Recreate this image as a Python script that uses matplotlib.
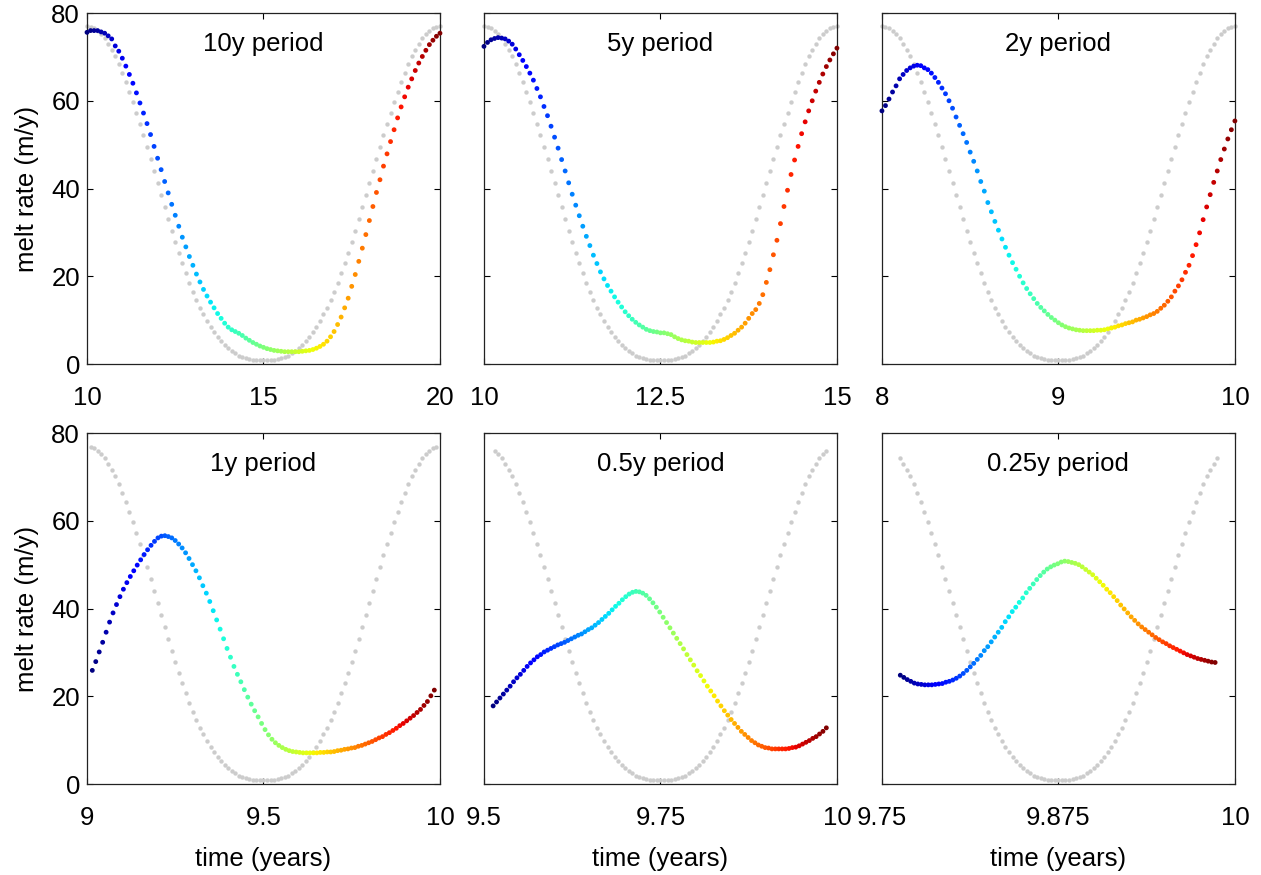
import numpy as np
import matplotlib
matplotlib.use('Agg')
import matplotlib.pyplot as plt

plt.rcParams['font.family'] = ['Liberation Sans', 'DejaVu Sans']

# panel titles, x ranges and tick labels
titles = ['10y period', '5y period', '2y period', '1y period', '0.5y period', '0.25y period']
x_ranges = [(10, 20), (10, 15), (8, 10), (9, 10), (9.5, 10), (9.75, 10)]
xtick_labels = [['10', '15', '20'], ['10', '12.5', '15'], ['8', '9', '10'],
                ['9', '9.5', '10'], ['9.5', '9.75', '10'], ['9.75', '9.875', '10']]

# grey forcing curve, 101 samples over one period (same shape in each panel)
forcing = [77.0, 76.9, 76.6, 76.0, 75.2, 74.2, 73.0, 71.6, 70.1, 68.3,
           66.4, 64.3, 62.1, 59.7, 57.3, 54.8, 52.1, 49.5, 46.7, 44.0,
           41.2, 38.5, 35.8, 33.1, 30.4, 27.9, 25.4, 23.0, 20.7, 18.5,
           16.4, 14.5, 12.7, 11.3, 9.8, 8.5, 7.3, 6.2, 5.2, 4.3,
           3.6, 2.9, 2.4, 1.9, 1.6, 1.3, 1.1, 1.0, 1.0, 1.0,
           1.0,
           1.0, 1.0, 1.0, 1.1, 1.3, 1.6, 1.9, 2.4, 2.9, 3.6,
           4.3, 5.2, 6.2, 7.3, 8.5, 9.8, 11.3, 12.7, 14.5, 16.4,
           18.5, 20.7, 23.0, 25.4, 27.9, 30.4, 33.1, 35.8, 38.5, 41.2,
           44.0, 46.7, 49.5, 52.1, 54.8, 57.3, 59.7, 62.1, 64.3, 66.4,
           68.3, 70.1, 71.6, 73.0, 74.2, 75.2, 76.0, 76.6, 76.9, 77.0]
# part of the forcing samples shown in each panel
forcing_slices = [(0, 101), (0, 101), (0, 101), (1, 100), (3, 98), (5, 96)]

# time span of the melt rate samples in each panel
melt_spans = [(10, 20), (10, 15), (8, 10), (9.015, 9.984), (9.513, 9.985), (9.763, 9.986)]

melt_10y = [75.6, 76.0, 76.0, 76.0, 75.7, 75.4, 74.8, 74.1, 72.5, 71.3,
            69.7, 67.9, 66.0, 64.0, 61.8, 59.5, 57.2, 54.8, 52.3, 49.6,
            46.9, 44.3, 41.6, 39.0, 36.4, 33.9, 31.4, 28.9, 26.7, 24.5,
            22.5, 20.5, 18.7, 17.0, 15.5, 14.1, 12.8, 11.5, 10.4, 9.3,
            8.4, 7.8, 7.4, 7.0, 6.5, 5.9, 5.4, 4.9, 4.5, 4.1,
            3.8, 3.5, 3.3, 3.1, 3.0, 2.9, 2.8, 2.8, 2.8, 2.8,
            2.8, 2.9, 3.0, 3.1, 3.3, 3.6, 4.0, 4.5, 5.2, 6.2,
            7.4, 9.0, 10.7, 12.8, 15.0, 17.7, 20.4, 23.4, 26.4, 29.5,
            32.7, 35.9, 39.1, 42.0, 45.1, 47.9, 50.7, 53.4, 56.1, 58.6,
            60.9, 63.1, 65.0, 66.9, 68.6, 70.1, 71.5, 72.8, 73.8, 74.7, 75.4]

melt_5y = [72.4, 73.3, 73.9, 74.2, 74.4, 74.3, 74.1, 73.6, 72.9, 71.8,
           70.5, 69.2, 67.8, 66.3, 64.7, 62.8, 60.9, 58.7, 56.6, 54.2,
           51.7, 49.2, 46.6, 44.0, 41.3, 38.7, 36.2, 33.8, 31.4, 29.1,
           27.0, 24.8, 22.9, 21.0, 19.4, 17.9, 16.6, 15.3, 14.1, 13.0,
           11.9, 11.0, 10.2, 9.5, 8.9, 8.4, 7.9, 7.6, 7.4, 7.3,
           7.1, 7.1, 6.9, 6.7, 6.2, 5.8, 5.5, 5.3, 5.2, 5.0,
           4.9, 4.9, 4.9, 4.9, 4.9, 5.0, 5.2, 5.3, 5.6, 6.0,
           6.5, 7.0, 7.7, 8.4, 9.3, 10.4, 11.5, 12.4, 13.8, 15.8,
           18.6, 21.5, 24.9, 28.2, 32.0, 35.9, 39.6, 43.2, 46.5, 49.6,
           52.5, 55.2, 57.7, 60.0, 62.2, 64.2, 66.1, 67.8, 69.3, 70.7, 72.0]

melt_2y = [57.7, 58.9, 60.4, 62.0, 63.4, 65.0, 66.0, 66.9, 67.5, 67.9,
           68.1, 68.0, 67.5, 67.1, 66.3, 65.3, 64.2, 62.9, 61.6, 60.0,
           58.3, 56.3, 54.4, 52.5, 50.5, 48.3, 46.2, 44.0, 41.6, 39.4,
           36.8, 34.7, 32.5, 30.5, 28.5, 26.6, 24.8, 23.1, 21.6, 20.0,
           18.5, 17.2, 16.0, 14.9, 13.8, 12.9, 12.1, 11.3, 10.6, 10.0,
           9.4, 8.9, 8.5, 8.2, 8.0, 7.8, 7.7, 7.6, 7.6, 7.6,
           7.6, 7.7, 7.7, 7.8, 8.0, 8.2, 8.4, 8.7, 8.9, 9.2,
           9.4, 9.6, 10.0, 10.2, 10.5, 10.8, 11.2, 11.5, 12.0, 12.7,
           13.4, 14.3, 15.3, 16.6, 17.8, 19.2, 20.9, 22.5, 24.7, 27.2,
           29.9, 32.9, 35.8, 38.6, 41.4, 44.0, 46.6, 49.0, 51.3, 53.4, 55.4]

melt_1y = [25.9, 27.9, 30.1, 32.3, 34.6, 36.9, 39.0, 40.9, 42.7, 44.4,
           45.9, 47.3, 48.6, 49.9, 51.1, 52.3, 53.4, 54.4, 55.3, 56.1,
           56.5, 56.6, 56.4, 56.1, 55.5, 54.7, 53.8, 52.7, 51.4, 50.0,
           48.6, 47.0, 45.2, 43.5, 41.6, 39.5, 37.4, 35.3, 33.1, 30.9,
           28.9, 26.8, 25.0, 23.3, 21.5, 19.8, 18.2, 16.7, 15.3, 13.8,
           12.4, 11.2, 10.2, 9.4, 8.8, 8.3, 7.9, 7.6, 7.4, 7.3,
           7.2, 7.1, 7.1, 7.1, 7.1, 7.1, 7.2, 7.2, 7.3, 7.3,
           7.4, 7.6, 7.7, 7.9, 8.0, 8.2, 8.3, 8.6, 8.8, 9.1,
           9.4, 9.7, 10.1, 10.5, 10.8, 11.3, 11.7, 12.2, 12.7, 13.3,
           13.8, 14.4, 15.0, 15.6, 16.3, 17.0, 17.9, 18.8, 20.1, 21.4]

melt_05y = [17.8, 18.7, 19.6, 20.5, 21.4, 22.3, 23.3, 24.2, 25.0, 25.9,
            26.8, 27.6, 28.3, 29.0, 29.5, 30.1, 30.5, 30.9, 31.3, 31.7,
            32.0, 32.3, 32.7, 33.1, 33.5, 33.9, 34.2, 34.7, 35.2, 35.6,
            36.2, 36.8, 37.5, 38.2, 38.9, 39.7, 40.5, 41.2, 42.0, 42.7,
            43.3, 43.7, 43.9, 43.8, 43.5, 43.0, 42.2, 41.3, 40.3, 39.2,
            38.0, 36.8, 35.6, 34.4, 33.2, 32.0, 30.8, 29.5, 28.3, 27.1,
            25.8, 24.7, 23.5, 22.3, 21.2, 20.1, 18.9, 17.8, 16.7, 15.7,
            14.7, 13.8, 12.9, 12.0, 11.3, 10.6, 9.9, 9.4, 8.9, 8.6,
            8.3, 8.2, 8.0, 8.0, 8.0, 8.0, 8.0, 8.1, 8.3, 8.4,
            8.7, 9.1, 9.5, 9.9, 10.4, 10.8, 11.4, 12.0, 12.8]

melt_025y = [24.8, 24.3, 23.8, 23.4, 23.0, 22.8, 22.7, 22.6, 22.6, 22.6,
             22.7, 22.8, 22.9, 23.2, 23.4, 23.7, 24.1, 24.6, 25.2, 25.9,
             26.7, 27.5, 28.4, 29.3, 30.4, 31.3, 32.4, 33.5, 34.6, 35.7,
             37.0, 38.1, 39.3, 40.3, 41.4, 42.4, 43.6, 44.6, 45.6, 46.6,
             47.5, 48.3, 49.0, 49.5, 49.9, 50.2, 50.6, 50.8, 50.7, 50.5,
             50.3, 50.0, 49.5, 48.9, 48.3, 47.7, 46.9, 46.1, 45.3, 44.4,
             43.6, 42.7, 41.8, 40.8, 39.9, 39.0, 38.1, 37.3, 36.5, 35.8,
             35.2, 34.6, 34.0, 33.4, 32.9, 32.4, 32.0, 31.5, 31.1, 30.7,
             30.3, 29.9, 29.5, 29.2, 28.9, 28.6, 28.4, 28.2, 28.0, 27.8, 27.7]

melt_series = [melt_10y, melt_5y, melt_2y, melt_1y, melt_05y, melt_025y]

FS = 18.5
lefts = [0.069, 0.3838, 0.6994]
bottoms = [0.584, 0.104]
w, h = 0.2799, 0.4011

fig = plt.figure(figsize=(12.61, 8.75), dpi=100)

for k in range(6):
    row, col = divmod(k, 3)
    ax = fig.add_axes([lefts[col], bottoms[row], w, h])
    x0, x1 = x_ranges[k]

    # grey forcing
    a, b = forcing_slices[k]
    tg = x0 + (x1 - x0) * np.arange(a, b) / 100.0
    ax.scatter(tg, forcing[a:b], s=10, color=(0.8, 0.8, 0.8), linewidths=0,
               zorder=2, clip_on=False)

    # melt rate coloured by time (jet)
    m = melt_series[k]
    t0, t1 = melt_spans[k]
    tm = np.linspace(t0, t1, len(m))
    cols = plt.cm.jet(np.linspace(0, 1, len(m)))
    ax.scatter(tm, m, s=12, c=cols, linewidths=0, zorder=3, clip_on=False)

    ax.set_xlim(x0, x1)
    ax.set_ylim(0, 80)
    ax.set_xticks([x0, (x0 + x1) / 2, x1])
    ax.set_xticklabels(xtick_labels[k])
    ax.set_yticks([0, 20, 40, 60, 80])
    ax.tick_params(direction='in', top=True, right=True, length=4, width=0.8,
                   labelsize=FS)
    ax.tick_params(axis='x', pad=16)
    ax.tick_params(axis='y', pad=5)
    for sp in ax.spines.values():
        sp.set_linewidth(0.9)
        sp.set_color('#222222')

    if col == 0:
        ax.set_ylabel('melt rate (m/y)', fontsize=FS, labelpad=9)
    else:
        ax.set_yticklabels([])
    if row == 1:
        ax.set_xlabel('time (years)', fontsize=FS, labelpad=12)

    ax.text(0.5, 0.893, titles[k], transform=ax.transAxes, ha='center',
            va='baseline', fontsize=FS)

fig.savefig('out.png', dpi=100)
